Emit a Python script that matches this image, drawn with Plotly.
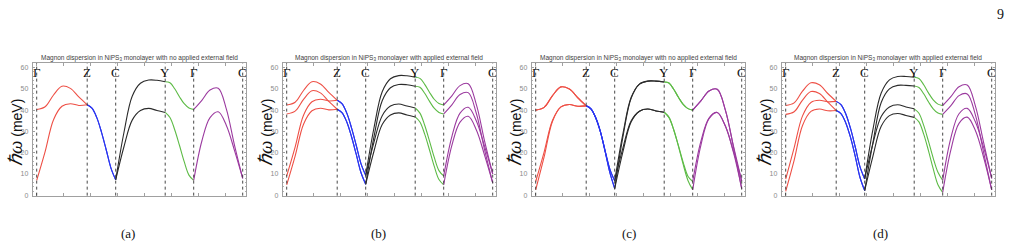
import numpy as np
import plotly.graph_objects as go

W, H = 1017, 251

# high-symmetry path (path distance units) and labels
hs_pos = [0, 50.5, 79, 128.5, 157, 206]
hs_labels = ["Γ", "Z", "C", "Y", "Γ", "C"]
seg_colors = ["#ee5046", "#2a35f0", "#2b2b2b", "#5dbb46", "#9b3a9f"]
n_int = 6  # samples per segment interval

titles = [
    "Magnon dispersion in NiPS<sub>3</sub> monolayer with no applied external field",
    "Magnon dispersion in NiPS<sub>3</sub> monolayer with applied external field",
    "Magnon dispersion in NiPS<sub>3</sub> monolayer with no applied external field",
    "Magnon dispersion in NiPS<sub>3</sub> monolayer with applied external field",
]
captions = ["(a)", "(b)", "(c)", "(d)"]
y_ticks = [0, 10, 20, 30, 40, 50, 60]

# ---- panel (a): no field ----
a_upper = [40.3, 41.6, 47.1, 51.2, 50.2, 46.2, 42.5,
           40.9, 36.6, 29.7, 21.4, 12.8, 7.3,
           29.5, 46.5, 52.6, 54.1, 54.0, 53.3,
           52.8, 50.0, 46.3, 43.0, 41.0, 40.3,
           44.6, 49.4, 50.3, 40.5, 23.5, 8.0]
a_lower = [7.0, 20.5, 35.5, 41.8, 43.0, 42.2, 42.5,
           40.9, 36.6, 29.7, 21.4, 12.8, 7.3,
           22.8, 35.3, 39.8, 40.8, 39.8, 38.9,
           36.5, 30.8, 23.5, 15.8, 9.5, 7.0,
           25.5, 36.5, 39.2, 32.8, 21.0, 8.0]

# ---- panel (b): applied field ----
b_upper_hi = [42.4, 43.7, 49.2, 53.3, 52.3, 48.3, 44.6,
              43.0, 38.7, 31.8, 23.5, 14.9, 9.4,
              31.6, 48.6, 54.7, 56.2, 56.1, 55.4,
              54.9, 52.1, 48.4, 45.1, 43.1, 42.4,
              46.7, 51.5, 52.4, 42.6, 25.6, 10.1]
b_upper_lo = [38.2, 39.5, 45.0, 49.1, 48.1, 44.1, 40.4,
              38.8, 34.5, 27.6, 19.3, 10.7, 5.2,
              27.4, 44.4, 50.5, 52.0, 51.9, 51.2,
              50.7, 47.9, 44.2, 40.9, 38.9, 38.2,
              42.5, 47.3, 48.2, 38.4, 21.4, 5.9]
b_lower_hi = [9.1, 22.6, 37.6, 43.9, 45.1, 44.3, 44.6,
              43.0, 38.7, 31.8, 23.5, 14.9, 9.4,
              24.9, 37.4, 41.9, 42.9, 41.9, 41.0,
              38.6, 32.9, 25.6, 17.9, 11.6, 9.1,
              27.6, 38.6, 41.3, 34.9, 23.1, 10.1]
b_lower_lo = [4.9, 18.4, 33.4, 39.7, 40.9, 40.1, 40.4,
              38.8, 34.5, 27.6, 19.3, 10.7, 5.2,
              20.7, 33.2, 37.7, 38.7, 37.7, 36.8,
              34.4, 28.7, 21.4, 13.7, 7.4, 4.9,
              23.4, 34.4, 37.1, 30.7, 18.9, 5.9]

# ---- panel (c): no field, second parameter set ----
c_upper_hi = [40.0, 41.3, 46.8, 50.9, 49.9, 45.8, 42.0,
              40.6, 36.4, 29.8, 20.8, 12.2, 6.8,
              29.0, 46.0, 52.2, 53.6, 53.6, 53.2,
              52.7, 49.8, 46.0, 42.7, 40.7, 40.0,
              44.3, 49.0, 49.8, 40.0, 23.0, 6.8]
c_upper_lo = [40.0, 41.3, 46.8, 50.9, 49.9, 45.8, 42.0,
              40.6, 36.4, 29.8, 20.4, 10.5, 3.2,
              27.5, 45.6, 52.2, 53.6, 53.6, 53.2,
              52.7, 49.8, 46.0, 42.7, 40.7, 40.0,
              44.3, 49.0, 49.8, 40.0, 22.5, 3.2]
c_lower_hi = [6.5, 20.3, 35.2, 41.5, 42.6, 41.8, 42.0,
              40.6, 36.4, 29.8, 20.8, 12.2, 6.8,
              22.3, 35.0, 39.5, 40.5, 39.6, 39.0,
              36.6, 30.8, 23.3, 15.5, 9.0, 6.5,
              25.3, 36.3, 38.9, 32.5, 20.6, 6.8]
c_lower_lo = [2.6, 18.0, 34.8, 41.5, 42.6, 41.8, 42.0,
              40.6, 36.4, 29.8, 20.4, 10.5, 3.2,
              20.5, 34.5, 39.5, 40.5, 39.6, 39.0,
              36.6, 30.8, 23.0, 14.5, 7.0, 2.6,
              23.5, 36.0, 38.9, 32.5, 20.0, 3.2]

# ---- panel (d): applied field, second parameter set ----
d_upper_hi = [42.2, 43.4, 48.9, 52.8, 51.9, 47.8, 44.1,
              42.6, 38.3, 31.5, 22.8, 13.5, 7.7,
              31.0, 48.0, 54.2, 55.8, 55.8, 55.4,
              54.8, 51.9, 48.1, 44.8, 42.8, 42.1,
              46.3, 51.0, 51.8, 42.0, 25.0, 8.0]
d_upper_lo = [38.0, 39.2, 44.7, 48.7, 47.8, 43.7, 39.8,
              38.4, 34.1, 27.3, 18.4, 8.5, 2.2,
              24.8, 43.6, 50.0, 51.6, 51.6, 51.3,
              50.6, 47.7, 43.9, 40.6, 38.6, 38.0,
              42.1, 46.8, 47.6, 37.8, 20.3, 2.6]
d_lower_hi = [7.6, 22.3, 37.3, 43.6, 44.6, 43.9, 44.1,
              42.6, 38.3, 31.5, 22.8, 13.5, 7.7,
              24.3, 37.0, 41.5, 42.5, 41.5, 40.6,
              38.5, 32.8, 25.4, 17.5, 10.8, 7.0,
              27.0, 38.3, 40.8, 34.5, 22.6, 8.0]
d_lower_lo = [1.9, 16.4, 32.8, 39.4, 40.5, 39.7, 39.8,
              38.4, 34.1, 27.3, 18.4, 8.5, 2.2,
              18.4, 32.4, 37.4, 38.4, 37.5, 36.6,
              34.5, 28.7, 21.0, 12.5, 5.0, 1.4,
              21.3, 33.8, 36.7, 30.4, 18.0, 2.6]

panels = [
    [a_upper, a_lower],
    [b_upper_hi, b_upper_lo, b_lower_hi, b_lower_lo],
    [c_upper_hi, c_upper_lo, c_lower_hi, c_lower_lo],
    [d_upper_hi, d_upper_lo, d_lower_hi, d_lower_lo],
]

# sample positions along the path
seg_x = [np.linspace(hs_pos[k], hs_pos[k + 1], n_int + 1) for k in range(5)]

# layout geometry (pixels)
frame_left = [32.7, 282.7, 531.7, 781.7]
frame_w = 213.3
frame_top, frame_bot = 64.0, 198.0
caption_x = [128, 378, 629, 880]

fig = go.Figure()
layout = dict(
    width=W, height=H, margin=dict(l=0, r=0, t=0, b=0),
    paper_bgcolor="white", plot_bgcolor="white", showlegend=False,
    annotations=[], shapes=[],
)

ylabel = ('<span style="font-family:Liberation Serif;font-size:19px"><i>ℏω</i></span>'
          ' (meV)')

for p, curves in enumerate(panels):
    xa = "x" if p == 0 else f"x{p+1}"
    ya = "y" if p == 0 else f"y{p+1}"
    for curve in curves:
        for k in range(5):
            ys = curve[k * n_int:(k + 1) * n_int + 1]
            fig.add_trace(go.Scatter(
                x=seg_x[k], y=ys, mode="lines",
                line=dict(color=seg_colors[k], width=1.1, shape="spline", smoothing=1.0),
                xaxis=xa, yaxis=ya, hoverinfo="skip"))
    x0 = frame_left[p] / W
    x1 = (frame_left[p] + frame_w) / W
    axcommon = dict(showgrid=False, zeroline=False, showline=True, linecolor="#a0a0a0",
                    linewidth=1, mirror="allticks", ticks="inside", tickcolor="#a0a0a0",
                    ticklen=2.5)
    layout["xaxis" if p == 0 else f"xaxis{p+1}"] = dict(
        domain=[x0, x1], range=[-4, 209.3], anchor=ya, showticklabels=False,
        tickvals=[0, 27, 54, 81, 108, 135, 162, 189], **axcommon)
    layout["yaxis" if p == 0 else f"yaxis{p+1}"] = dict(
        domain=[1 - frame_bot / H, 1 - frame_top / H], range=[-0.14, 62.0], anchor=xa,
        tickvals=y_ticks, ticklabelstandoff=2,
        tickfont=dict(family="Liberation Sans, Arial", size=7, color="#8a8a8a"),
        minor=dict(ticks="inside", ticklen=1.5, dtick=2, tickcolor="#b0b0b0"),
        **axcommon)
    # vertical dotted lines and labels
    for xv, lab in zip(hs_pos, hs_labels):
        layout["shapes"].append(dict(type="line", xref=xa, yref=f"{ya} domain",
                                     x0=xv, x1=xv, y0=0, y1=1,
                                     line=dict(color="#333333", width=0.9, dash="dot")))
        layout["annotations"].append(dict(xref=xa, yref=ya, x=xv, y=57.8, text=lab,
                                          showarrow=False, xanchor="center", yanchor="middle",
                                          font=dict(family="Liberation Serif, Times New Roman",
                                                    size=13, color="#111111")))
    # panel title
    layout["annotations"].append(dict(xref="paper", yref="paper",
                                      x=(frame_left[p] + frame_w / 2) / W, y=1 - 58.5 / H,
                                      text=titles[p], showarrow=False,
                                      xanchor="center", yanchor="middle",
                                      font=dict(family="Liberation Sans, Arial", size=6.5,
                                                color="#404040")))
    # y-axis label
    layout["annotations"].append(dict(xref="paper", yref="paper",
                                      x=(frame_left[p] - 17) / W, y=1 - 134 / H,
                                      text=ylabel,
                                      textangle=-90, showarrow=False,
                                      xanchor="center", yanchor="middle",
                                      font=dict(family="Liberation Sans, Arial", size=14,
                                                color="#111111")))
    # caption
    layout["annotations"].append(dict(xref="paper", yref="paper",
                                      x=caption_x[p] / W, y=1 - 236 / H, text=captions[p],
                                      showarrow=False, xanchor="center", yanchor="middle",
                                      font=dict(family="Liberation Serif, Times New Roman",
                                                size=13, color="#111111")))

# page number
layout["annotations"].append(dict(xref="paper", yref="paper", x=1000 / W, y=1 - 15 / H,
                                  text="9", showarrow=False, xanchor="center",
                                  yanchor="middle",
                                  font=dict(family="Liberation Serif, Times New Roman",
                                            size=14, color="#111111")))

fig.update_layout(**layout)
fig.write_html("out.html")
